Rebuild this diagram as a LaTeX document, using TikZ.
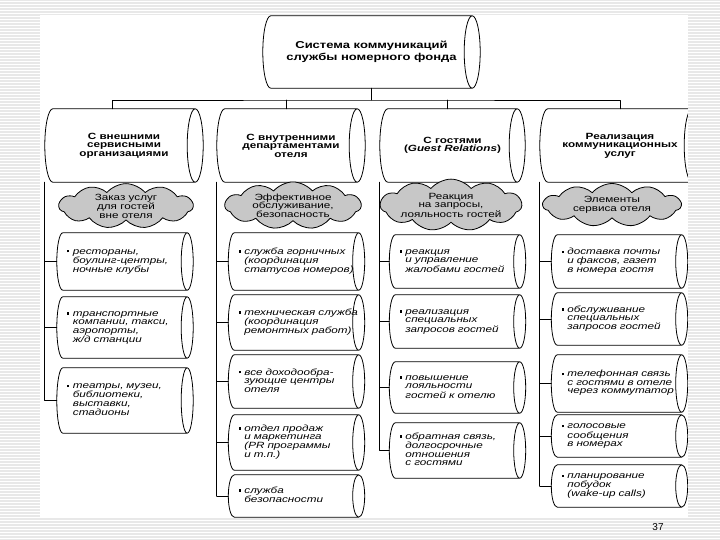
\documentclass[tikz,border=0pt]{standalone}
\usepackage{fontspec}
\setmainfont{Liberation Sans}[FakeStretch=1.3]
\newfontfamily\pagefont{Liberation Sans}
\usetikzlibrary{shapes.symbols,calc}
\newcommand{\bul}[1]{\rule[1.6pt]{2.4pt}{2.4pt}\kern3.5pt\begin{tabular}[t]{@{}l@{}}#1\end{tabular}}
\newcommand{\stripes}[4]{%
	\fill[white] (#1,#2) rectangle (#3,#4);
	\begin{scope}
		\clip (#1,#2) rectangle (#3,#4);
		\foreach \s in {0,3,...,540} \draw[stripe] (#1,\s)--(#3,\s);
	\end{scope}}
\newcommand{\cylinder}[2]{%
	\draw[line width=0.8pt] let \p1=(#1.north), \p2=(#1.south), \n1={(\y1-\y2)/2} in
		([xshift=#2]#1.south west) arc[start angle=270, end angle=90, x radius=#2, y radius=\n1]
		--([xshift=-#2]#1.north east) arc[start angle=90, end angle=-270, x radius=#2, y radius=\n1]
		([xshift=-#2]#1.south east)--([xshift=#2]#1.south west);}
\begin{document}
\begin{tikzpicture}[x=1pt, y=-1pt, line join=round, line cap=round,
	stripe/.style={line width=1.1pt, color=black!9},
	link/.style={line width=0.8pt},
	topcyl/.style={inner sep=0pt, font=\bfseries\fontsize{10}{11.5}\selectfont, align=center},
	dept/.style={inner sep=0pt, minimum height=73pt, font=\bfseries\fontsize{9}{8.5}\selectfont, align=center},
	item/.style={inner sep=0pt, minimum width=136pt, text width=116pt, align=left, font=\itshape\fontsize{9}{8.5}\selectfont},
	aim/.style={cloud, cloud puffs=11, cloud puff arc=100, cloud ignores aspect, draw, line width=0.8pt, fill=black!22, inner sep=0pt, font=\fontsize{9}{8.5}\selectfont, align=center}]
	\useasboundingbox (0,0) rectangle (720,540);
	\stripes{0}{0}{720}{540}
	\fill[white] (40,15) rectangle (688,518);
	% verhnij uroven
	\node[topcyl, minimum width=217pt, minimum height=72pt] (sys) at (371.5,52) {Система коммуникаций\\службы номерного фонда};
	\node[dept, minimum width=158pt] (d1) at (124,145.5) {С внешними\\сервисными\\организациями};
	\node[dept, minimum width=148pt] (d2) at (291,145.5) {С внутренними\\департаментами\\отеля};
	\node[dept, minimum width=145pt] (d3) at (452.5,145.5) {С гостями\\(\textit{Guest Relations})};
	\node[dept, minimum width=160pt] (d4) at (620,145.5) {Реализация\\коммуникационных\\услуг};
	\cylinder{sys}{8pt}
	\foreach \nm in {d1,d2,d3,d4} {\cylinder{\nm}{8pt}}
	\coordinate (bus) at (371.5,100);
	\draw[link] (sys.south)--(bus);
	\draw[link] ([xshift=-12pt]d1.north) |- (bus) -| (d4.north);
	\draw[link] ([xshift=-5pt]d2.north)--([xshift=-5pt]d2.north |- bus);
	\draw[link] ([xshift=-5pt]d3.north)--([xshift=-5pt]d3.north |- bus);
	% oblaka
	\node[aim, minimum width=134pt, minimum height=44pt] (g1) at (126,206) {Заказ услуг\\для гостей\\вне отеля};
	\node[aim, minimum width=136pt, minimum height=44pt] (g2) at (293,205.5) {Эффективное\\обслуживание,\\безопасность};
	\node[aim, minimum width=140pt, minimum height=44pt] (g3) at (451,205) {Реакция\\на запросы,\\лояльность гостей};
	\node[aim, minimum width=138pt, minimum height=43pt] (g4) at (612,205) {Элементы\\сервиса отеля};
	% kolonka 1
	\node[item, minimum height=57pt] (i11) at (125,261.5) {\bul{рестораны,\\боулинг-центры,\\ночные клубы}};
	\node[item, minimum height=61pt] (i12) at (125,327.5) {\bul{транспортные\\компании, такси,\\аэропорты,\\ж/д станции}};
	\node[item, minimum height=65pt] (i13) at (125,400.5) {\bul{театры, музеи,\\библиотеки,\\выставки,\\стадионы}};
	% kolonka 2
	\node[item, minimum height=57pt] (i21) at (296.5,261.5) {\bul{служба горничных\\(координация\\статусов номеров)}};
	\node[item, minimum height=55pt] (i22) at (296.5,322.5) {\bul{техническая служба\\(координация\\ремонтных работ)}};
	\node[item, minimum height=53pt] (i23) at (296.5,381.5) {\bul{все доходообра-\\зующие центры\\отеля}};
	\node[item, minimum height=55pt] (i24) at (296.5,442.5) {\bul{отдел продаж\\и маркетинга\\(PR программы\\и т.п.)}};
	\node[item, minimum height=42pt] (i25) at (296.5,496) {\bul{служба\\безопасности}};
	% kolonka 3
	\node[item, minimum height=53pt] (i31) at (457.5,261.5) {\bul{реакция\\и управление\\жалобами гостей}};
	\node[item, minimum height=53pt] (i32) at (457.5,321.5) {\bul{реализация\\специальных\\запросов гостей}};
	\node[item, minimum height=51pt] (i33) at (457.5,387.5) {\bul{повышение\\лояльности\\гостей к отелю}};
	\node[item, minimum height=55pt] (i34) at (457.5,450.5) {\bul{обратная связь,\\долгосрочные\\отношения\\с гостями}};
	% kolonka 4
	\node[item, minimum height=53pt] (i41) at (619.5,261.5) {\bul{доставка почты\\и факсов, газет\\в номера гостя}};
	\node[item, minimum height=52pt] (i42) at (619.5,319) {\bul{обслуживание\\специальных\\запросов гостей}};
	\node[item, minimum height=57pt] (i43) at (619.5,383.5) {\bul{телефонная связь\\с гостями в отеле\\через коммутатор}};
	\node[item, minimum height=42pt] (i44) at (619.5,436) {\bul{голосовые\\сообщения\\в номерах}};
	\node[item, minimum height=42pt] (i45) at (619.5,486) {\bul{планирование\\побудок\\(wake-up calls)}};
	\foreach \nm in {i11,i12,i13,i21,i22,i23,i24,i25,i31,i32,i33,i34,i41,i42,i43,i44,i45} {\cylinder{\nm}{6pt}}
	% stvoly
	\draw[link] (d1.south west)--(d1.west |- i13.west);
	\foreach \i in {11,12,13} \draw[link] (i\i.west)--(i\i.west -| d1.west);
	\draw[link] (d2.south west)--(d2.west |- i25.west);
	\foreach \i in {21,22,23,24,25} \draw[link] (i\i.west)--(i\i.west -| d2.west);
	\draw[link] (d3.south west)--(d3.west |- i34.west);
	\foreach \i in {31,32,33,34} \draw[link] (i\i.west)--(i\i.west -| d3.west);
	\draw[link] (d4.south west)--(d4.west |- i45.west);
	\foreach \i in {41,42,43,44,45} \draw[link] (i\i.west)--(i\i.west -| d4.west);
	\stripes{688}{0}{720}{540}
	\node[font=\pagefont\fontsize{10}{12}\selectfont] (pg) at (658,527) {37};
\end{tikzpicture}
\end{document}
